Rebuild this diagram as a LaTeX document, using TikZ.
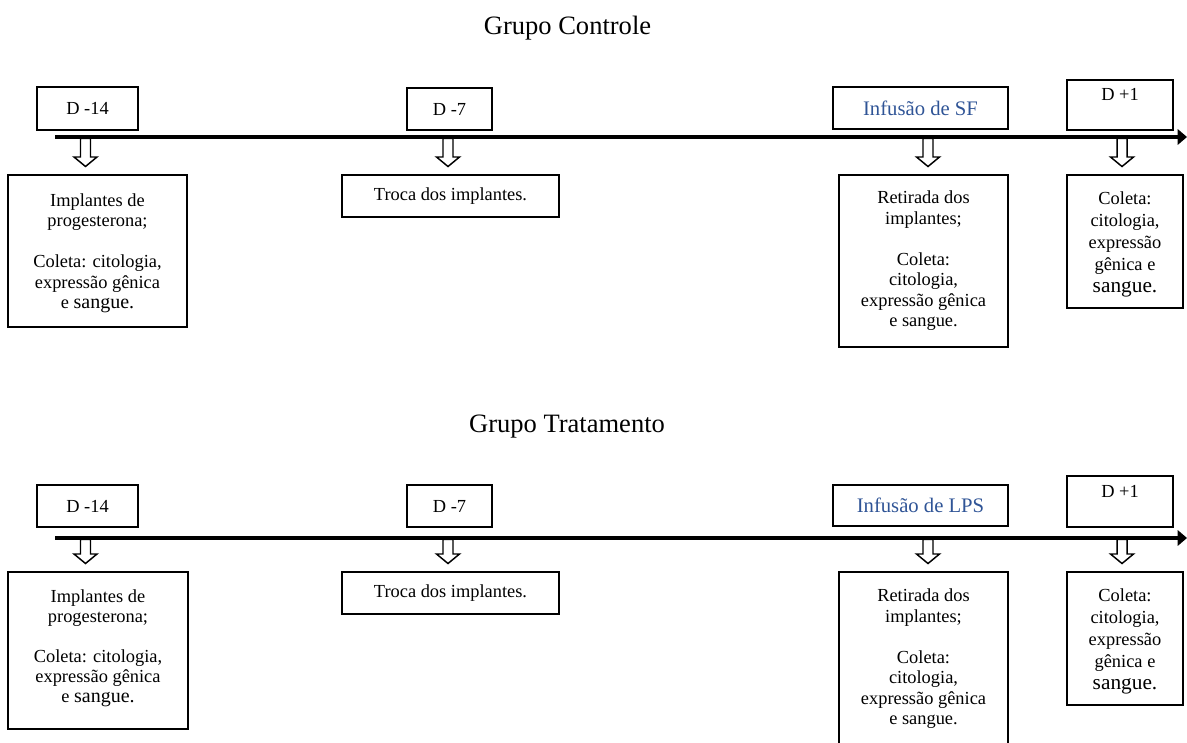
\documentclass[tikz,border=0pt]{standalone}
\usepackage{fontspec}
\setmainfont{Liberation Serif}
\usetikzlibrary{arrows.meta}
\definecolor{infblue}{RGB}{47,84,150}
\newcommand\dnarrow[3]{% x, y top (timeline), y of box top
  \draw[blockarr] (#1-5,#2) -- (#1+5,#2) -- (#1+5,#3-18) -- (#1+11.5,#3-18) -- (#1,#3-8.5) -- (#1-11.5,#3-18) -- (#1-5,#3-18) -- cycle;}
\begin{document}
\begin{tikzpicture}[x=0.75pt,y=-0.75pt,
  sz/.style 2 args={minimum width=#1*0.75pt, minimum height=#2*0.75pt},
  box/.style={draw, line width=1.3pt, rectangle, inner sep=0pt, align=center,
    font=\fontsize{13.8}{15.4}\selectfont},
  daybox/.style={box},
  tx/.style={align=center, inner sep=0pt, anchor=north, font=\fontsize{13.8}{15.4}\selectfont},
  blue/.style={box, text=infblue, font=\fontsize{15.5}{17}\selectfont},
  title/.style={font=\fontsize{19.9}{22}\selectfont, anchor=base},
  timeline/.style={line width=2.4pt, -{Triangle[length=7pt,width=11.5pt]}},
  blockarr/.style={draw, line width=1.1pt, fill=white, line join=miter}]
\useasboundingbox (0,0) rectangle (1187,742);
\clip (0,0) rectangle (1187,742);

% ---------------- Grupo Controle ----------------
\node[title] (t1) at (567.5,35) {Grupo Controle};
\coordinate (a1s) at (55,137);
\coordinate (a1e) at (1187,137);
\draw[timeline] (a1s) -- (a1e);

\node[daybox, sz={101}{43}] (d14a) at (87.5,108.5) {D -14};
\node[daybox, sz={85}{42}] (d7a) at (449.5,109) {D -7};
\node[blue, sz={175}{42}] (sfa) at (920.5,108) {Infusão de SF};
\node[daybox, sz={106}{50}] (d1a) at (1120,105) {};
\node[font=\fontsize{13.8}{15.75}\selectfont, anchor=base] (d1at) at (1120,100) {D +1};

\dnarrow{85.5}{138.5}{175}
\dnarrow{448}{138.5}{175}
\dnarrow{928}{138.5}{175}
\dnarrow{1122}{138.5}{175}

\node[box, sz={179}{152}] (b1a) at (97.5,251) {};
\node[tx] (b1at) at (97.5,193) {Implantes de\\progesterona;\\[15.4pt]Coleta: citologia,\\expressão gênica\\e {\fontsize{15}{15.4}\selectfont sangue.}};
\node[box, sz={217}{42}] (b2a) at (450.5,196) {Troca dos implantes.};
\node[box, sz={169}{172}] (b3a) at (923.5,261) {};
\node[tx] (b3at) at (923.5,190.5) {Retirada dos\\implantes;\\[15.4pt]Coleta:\\citologia,\\expressão gênica\\e sangue.};
\node[box, sz={116}{133}] (b4a) at (1125,241.5) {};
\node[tx, font=\fontsize{13.8}{16.5}\selectfont] (b4at) at (1125,191.5) {Coleta:\\citologia,\\expressão\\gênica e\\{\fontsize{16}{16.5}\selectfont sangue.}};

% ---------------- Grupo Tratamento ----------------
\node[title] (t2) at (567,432) {Grupo Tratamento};
\coordinate (a2s) at (55,538);
\coordinate (a2e) at (1187,538);
\draw[timeline] (a2s) -- (a2e);

\node[daybox, sz={101}{42}] (d14b) at (87.5,506) {D -14};
\node[daybox, sz={85}{42}] (d7b) at (449.5,506) {D -7};
\node[blue, sz={175}{41}] (lpsb) at (920.5,505.5) {Infusão de LPS};
\node[daybox, sz={106}{51}] (d1b) at (1120,501.5) {};
\node[font=\fontsize{13.8}{15.75}\selectfont, anchor=base] (d1bt) at (1120,497) {D +1};

\dnarrow{85.5}{539.5}{572}
\dnarrow{448}{539.5}{572}
\dnarrow{928}{539.5}{572}
\dnarrow{1122}{539.5}{572}

\node[box, sz={180}{157}] (b1b) at (98,650.5) {};
\node[tx, font=\fontsize{13.8}{15}\selectfont] (b1bt) at (98,589.5) {Implantes de\\progesterona;\\[15pt]Coleta: citologia,\\expressão gênica\\e {\fontsize{15}{15}\selectfont sangue.}};
\node[box, sz={217}{42}] (b2b) at (450.5,593) {Troca dos implantes.};
\node[box, sz={169}{180}] (b3b) at (923.5,662) {};
\node[tx] (b3bt) at (923.5,588.5) {Retirada dos\\implantes;\\[15.4pt]Coleta:\\citologia,\\expressão gênica\\e sangue.};
\node[box, sz={116}{133}] (b4b) at (1125,638.5) {};
\node[tx, font=\fontsize{13.8}{16.5}\selectfont] (b4bt) at (1125,588.5) {Coleta:\\citologia,\\expressão\\gênica e\\{\fontsize{16}{16.5}\selectfont sangue.}};
\end{tikzpicture}
\end{document}
